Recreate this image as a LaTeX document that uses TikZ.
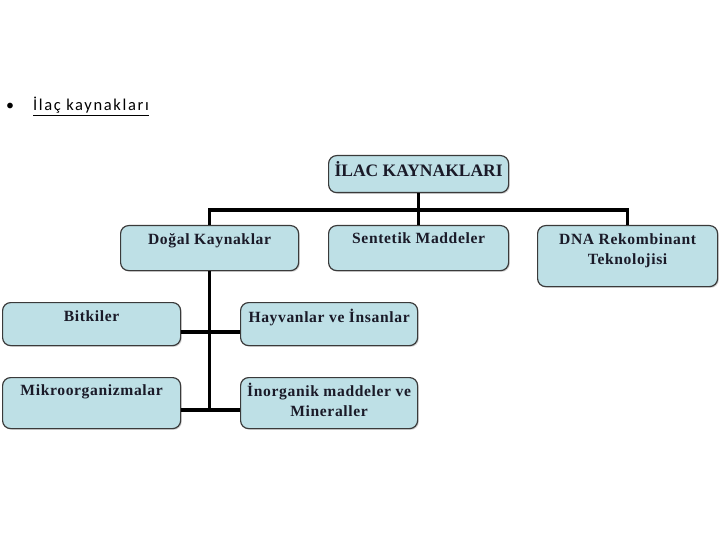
\documentclass[tikz,border=0pt]{standalone}
\usepackage{fontspec}
\setmainfont{Liberation Serif}
\newfontfamily\bodyfont[LetterSpace=10]{Carlito}
\newfontfamily\boxfont[LetterSpace=4]{Liberation Serif}
\newfontfamily\titlefont[LetterSpace=0]{Liberation Serif}
\usetikzlibrary{shadows}
\definecolor{boxfill}{HTML}{BEE0E6}
\definecolor{boxline}{HTML}{3A3A3A}
\definecolor{boxtxt}{HTML}{1A1A28}
\tikzset{
  box/.style={draw=boxline, line width=1.2pt, fill=boxfill, rounded corners=8pt,
    anchor=north west, inner sep=0pt,
    drop shadow={opacity=0.35, shadow xshift=1.2pt, shadow yshift=-1.2pt}},
  boxtext/.style={font=\boxfont\fontsize{15.6}{20}\selectfont\bfseries, text=boxtxt, align=center, anchor=north, inner sep=0pt},
  conn/.style={line width=3.6pt, black},
}
\begin{document}
\begin{tikzpicture}[x=1pt,y=-1pt]
\useasboundingbox (0,0) rectangle (720,540);
% header text
\node[anchor=base west, inner sep=0pt, font=\bodyfont\fontsize{16}{19}\selectfont] (bullet) at (6,111) {•};
\node[anchor=base west, inner sep=0pt, font=\bodyfont\fontsize{16.5}{19}\selectfont] (head) at (33,111) {\underline{İlaç kaynakları}};
% boxes
\node[box, minimum width=180, minimum height=37] (title) at (328,155) {};
\node[box, minimum width=178, minimum height=45] (dogal) at (120,225) {};
\node[box, minimum width=180, minimum height=45] (sent) at (328,225) {};
\node[box, minimum width=180, minimum height=61] (dna) at (537,225) {};
\node[box, minimum width=178, minimum height=43] (bitki) at (2,302) {};
\node[box, minimum width=177, minimum height=43] (hayvan) at (240,302) {};
\node[box, minimum width=178, minimum height=51] (mikro) at (2,377) {};
\node[box, minimum width=177, minimum height=51] (inorg) at (240,377) {};
% texts
\node[boxtext, font=\titlefont\fontsize{17.5}{20}\selectfont\bfseries] (ttitle) at ([yshift=-6]title.north) {İLAC KAYNAKLARI};
\node[boxtext] (tdogal) at ([yshift=-8]dogal.north) {Doğal Kaynaklar};
\node[boxtext] (tsent) at ([yshift=-7]sent.north) {Sentetik Maddeler};
\node[boxtext] (tdna) at ([yshift=-8]dna.north) {DNA Rekombinant\\Teknolojisi};
\node[boxtext] (tbitki) at ([yshift=-8]bitki.north) {Bitkiler};
\node[boxtext] (thayvan) at ([yshift=-7]hayvan.north) {Hayvanlar ve İnsanlar};
\node[boxtext] (tmikro) at ([yshift=-7]mikro.north) {Mikroorganizmalar};
\node[boxtext] (tinorg) at ([yshift=-6]inorg.north) {İnorganik maddeler ve\\Mineraller};
% connectors
\coordinate (bus) at (418,210);
\draw[conn] (title.south) -- (sent.north);
\draw[conn] (dogal.north) -- (dogal.north |- bus) -- (dna.north |- bus) -- (dna.north);
\coordinate (rowA) at ([yshift=-8]bitki.east);
\coordinate (rowB) at ([yshift=-7]mikro.east);
\draw[conn] (dogal.south) -- (dogal.south |- rowB);
\draw[conn] (rowA) -- (rowA -| hayvan.west);
\draw[conn] (rowB) -- (rowB -| inorg.west);
\end{tikzpicture}
\end{document}
